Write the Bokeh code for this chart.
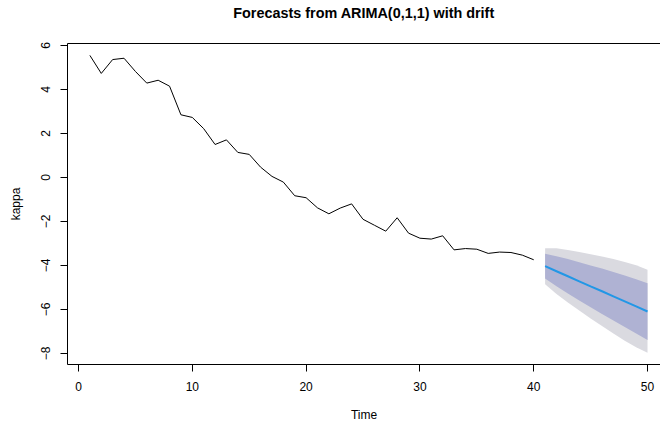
from bokeh.plotting import figure
from bokeh.models import Range1d, LinearAxis, FixedTicker
from bokeh.embed import file_html
from bokeh.resources import INLINE

# Historical series (Time 1..40)
time_hist = list(range(1, 41))
kappa_hist = [5.55, 4.73, 5.36, 5.42, 4.82, 4.29, 4.42, 4.15, 2.85, 2.73,
              2.22, 1.50, 1.71, 1.14, 1.05, 0.47, 0.05, -0.21, -0.83, -0.92,
              -1.38, -1.65, -1.39, -1.20, -1.90, -2.17, -2.44, -1.83, -2.53, -2.76,
              -2.80, -2.65, -3.29, -3.23, -3.26, -3.45, -3.39, -3.41, -3.53, -3.74]

# Forecast (Time 41..50)
time_fc = list(range(41, 51))
mean_fc = [-4.03, -4.26, -4.49, -4.72, -4.95, -5.17, -5.40, -5.63, -5.86, -6.09]
lo80 = [-4.59, -4.94, -5.27, -5.59, -5.90, -6.20, -6.50, -6.80, -7.09, -7.39]
hi80 = [-3.47, -3.58, -3.71, -3.85, -4.00, -4.14, -4.30, -4.46, -4.63, -4.81]
lo95 = [-4.85, -5.30, -5.68, -6.05, -6.41, -6.75, -7.09, -7.42, -7.72, -7.97]
hi95 = [-3.22, -3.22, -3.30, -3.39, -3.49, -3.59, -3.71, -3.84, -3.99, -4.19]

x_ticks = [0, 10, 20, 30, 40, 50]
y_ticks = [-8, -6, -4, -2, 0, 2, 4, 6]
title_text = "Forecasts from ARIMA(0,1,1) with drift"

FONT = "Liberation Sans"

p = figure(width=660, height=427, output_backend="svg", toolbar_location=None,
           x_range=Range1d(-0.967, 51.14), y_range=Range1d(-8.5, 6.09),
           min_border_left=67, min_border_right=0, min_border_top=43,
           min_border_bottom=63)

p.outline_line_color = None
p.background_fill_color = "white"
p.border_fill_color = "white"
p.xgrid.visible = False
p.ygrid.visible = False

# forecast bands and mean
p.varea(x=time_fc, y1=lo95, y2=hi95, fill_color="#DADAE0")
p.varea(x=time_fc, y1=lo80, y2=hi80, fill_color="#AFB2D3")
p.line(x=time_fc, y=mean_fc, line_color="#2297E6", line_width=2)
p.line(x=time_hist, y=kappa_hist, line_color="black", line_width=1)

for ax in (p.xaxis[0], p.yaxis[0]):
    ax.axis_line_color = "black"
    ax.major_tick_line_color = "black"
    ax.minor_tick_line_color = None
    ax.major_tick_out = 7
    ax.major_tick_in = 0
    ax.major_label_text_font = FONT
    ax.major_label_text_font_size = "12px"
    ax.major_label_text_color = "black"
    ax.axis_label_text_font = FONT
    ax.axis_label_text_font_size = "12px"
    ax.axis_label_text_font_style = "normal"
    ax.axis_label_text_color = "black"

p.xaxis[0].ticker = FixedTicker(ticks=x_ticks)
p.yaxis[0].ticker = FixedTicker(ticks=y_ticks)
p.xaxis[0].axis_label = "Time"
p.yaxis[0].axis_label = "kappa"
p.yaxis[0].major_label_orientation = "vertical"
p.xaxis[0].major_label_standoff = 10
p.xaxis[0].axis_label_standoff = 14
p.yaxis[0].major_label_standoff = 10
p.yaxis[0].axis_label_standoff = 16

# top edge of the box, carrying the chart title
top = LinearAxis(ticker=FixedTicker(ticks=[]), major_label_text_font_size="0px",
                 major_tick_out=0, major_tick_in=0, minor_tick_out=0,
                 axis_line_color="black",
                 axis_label=title_text, axis_label_standoff=23,
                 axis_label_text_font=FONT, axis_label_text_font_size="14.4px",
                 axis_label_text_font_style="bold", axis_label_text_color="black")
p.add_layout(top, "above")

open("out.html", "w").write(file_html(p, INLINE))
